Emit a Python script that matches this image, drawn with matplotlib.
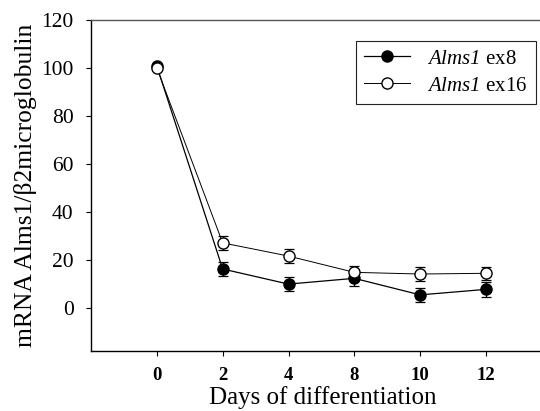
import matplotlib
matplotlib.use("Agg")
import matplotlib.pyplot as plt
import numpy as np

plt.rcParams['font.family'] = ['Liberation Serif', 'DejaVu Serif']
plt.rcParams['mathtext.fontset'] = 'custom'
plt.rcParams['mathtext.rm'] = 'Liberation Serif:italic'
plt.rcParams['mathtext.it'] = 'Liberation Serif:italic'

# days of differentiation (plotted as evenly spaced categories)
days = ['0', '2', '4', '8', '10', '12']
ex8 = [100.8, 16.1, 9.8, 12.2, 5.3, 7.6]
ex8_err = [1.0, 3.0, 3.0, 3.0, 3.0, 3.0]
ex16 = [100.0, 27.0, 21.5, 14.7, 14.0, 14.3]
ex16_err = [1.0, 2.8, 2.8, 2.8, 2.8, 2.8]

fig = plt.figure(figsize=(5.4, 4.11), dpi=100)
ax = fig.add_axes([0.1685, 0.1467, 0.8315, 0.8046])

x = np.arange(len(days))
ax.errorbar(x, ex8, yerr=ex8_err, fmt='none', ecolor='black',
            elinewidth=0.9, capsize=3.5, capthick=0.9, zorder=2)
ax.errorbar(x, ex16, yerr=ex16_err, fmt='none', ecolor='black',
            elinewidth=0.9, capsize=3.5, capthick=0.9, zorder=2)
ax.plot(x, ex8, color='black', marker='o', markersize=8,
        markerfacecolor='black', markeredgecolor='black', linewidth=0.9,
        label=r'$\mathrm{Alms1}$ ex8', zorder=3)
ax.plot(x, ex16, color='black', marker='o', markersize=8,
        markerfacecolor='white', markeredgecolor='black', markeredgewidth=1.0,
        linewidth=0.7, label=r'$\mathrm{Alms1}$ ex16', zorder=4)

ax.set_xlim(-1, 5.82)
ax.set_ylim(-18, 120)
ax.set_xticks(x)
ax.set_xticklabels(days, fontweight='bold', fontsize=13.5)
ax.set_yticks([0, 20, 40, 60, 80, 100, 120])
ax.tick_params(axis='y', labelsize=15.5, direction='out', length=3.5, width=0.8, pad=9)
ax.tick_params(axis='x', direction='out', length=3.5, width=0.8, pad=8)
ax.spines['right'].set_visible(False)
for s in ['left', 'bottom', 'top']:
    ax.spines[s].set_linewidth(1.0)
ax.spines['top'].set_color('#555555')

ax.set_xlabel('Days of differentiation', fontsize=18)
ax.xaxis.set_label_coords(0.516, -0.108)
ax.set_ylabel('mRNA Alms1/β2microglobulin', fontsize=18.4, labelpad=3)

leg = ax.legend(loc='upper left', bbox_to_anchor=(0.59, 0.937), borderaxespad=0,
                fancybox=False, edgecolor='#222222', fontsize=15, handlelength=2.2,
                labelspacing=0.35, framealpha=1)
leg.get_frame().set_linewidth(0.8)

fig.savefig('out.png', dpi=100)
